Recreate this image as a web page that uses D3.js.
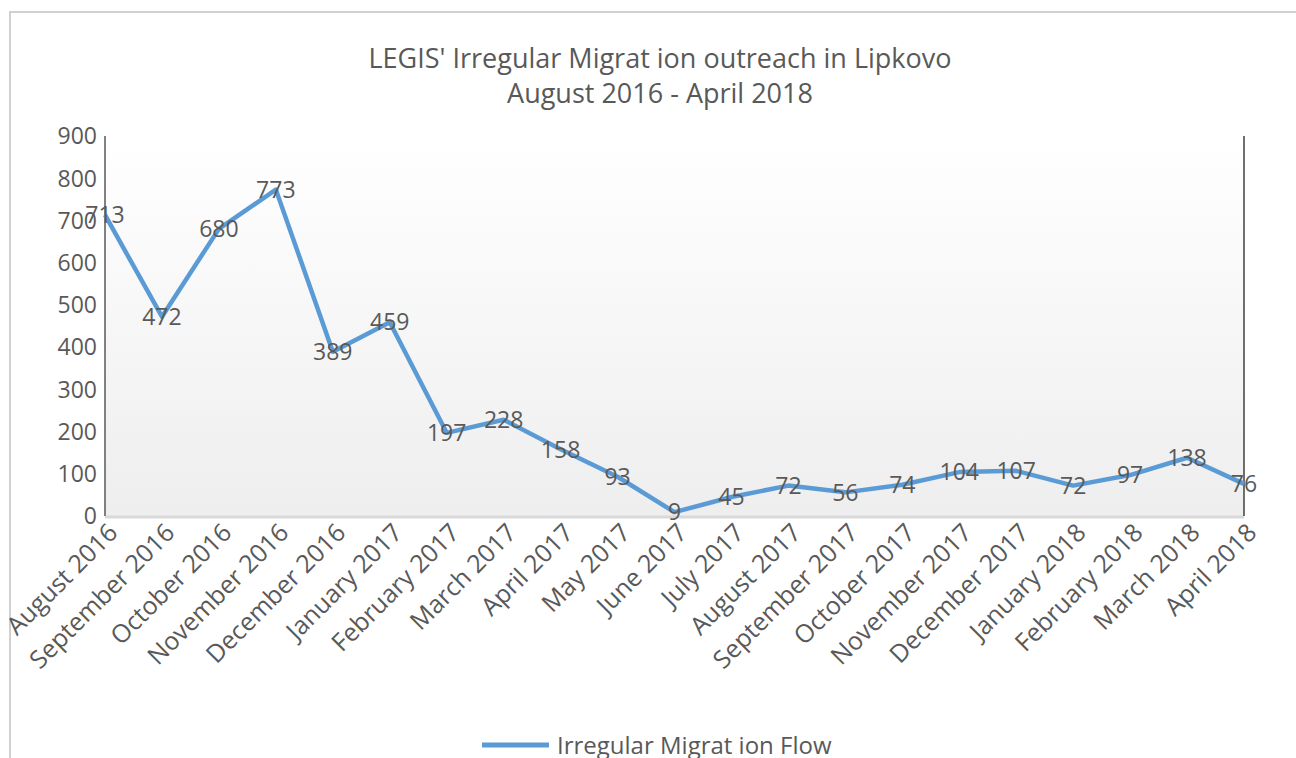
<!DOCTYPE html>
<html>
<head>
<meta charset="utf-8">
<script src="https://cdn.jsdelivr.net/npm/d3@7/dist/d3.min.js"></script>
<style>
  body { margin: 0; background: #fff; }
  svg text { font-family: "Open Sans", "DejaVu Sans", sans-serif; fill: #595959; }
</style>
</head>
<body>
<svg id="chart" width="1296" height="758"></svg>
<script>
var months = ["August 2016", "September 2016", "October 2016", "November 2016", "December 2016",
  "January 2017", "February 2017", "March 2017", "April 2017", "May 2017", "June 2017",
  "July 2017", "August 2017", "September 2017", "October 2017", "November 2017",
  "December 2017", "January 2018", "February 2018", "March 2018", "April 2018"];
var flow = [713, 472, 680, 773, 389, 459, 197, 228, 158, 93, 9, 45, 72, 56, 74, 104, 107, 72, 97, 138, 76];
var yTicks = [0, 100, 200, 300, 400, 500, 600, 700, 800, 900];
var titleLines = ["LEGIS' Irregular Migrat ion outreach in Lipkovo", "August 2016 - April 2018"];
var seriesName = "Irregular Migrat ion Flow";

var lineColor = "#5b9bd5";
var plotLeft = 105, plotRight = 1244, plotTop = 136, plotBottom = 516;

var svg = d3.select("#chart");

// outer frame (partial, like the cropped screenshot)
svg.append("path")
  .attr("d", "M10,758 V12 H1296")
  .attr("fill", "none")
  .attr("stroke", "#d0d0d0")
  .attr("stroke-width", 2);

var defs = svg.append("defs");
var grad = defs.append("linearGradient")
  .attr("id", "plotBg").attr("x1", 0).attr("y1", 0).attr("x2", 0).attr("y2", 1);
grad.append("stop").attr("offset", "0%").attr("stop-color", "#ffffff");
grad.append("stop").attr("offset", "100%").attr("stop-color", "#eeeeee");

var x = d3.scalePoint().domain(months).range([plotLeft, plotRight]);
var y = d3.scaleLinear().domain([0, 900]).range([plotBottom, plotTop]);

svg.append("rect")
  .attr("x", plotLeft).attr("y", plotTop)
  .attr("width", plotRight - plotLeft).attr("height", plotBottom - plotTop)
  .attr("fill", "url(#plotBg)");

// title
svg.append("g").selectAll("text")
  .data(titleLines)
  .join("text")
  .attr("x", 660)
  .attr("y", function (d, i) { return 68 + i * 35; })
  .attr("text-anchor", "middle")
  .style("font-size", "27px")
  .text(function (d) { return d; });

// y axis labels
svg.append("g").selectAll("text")
  .data(yTicks)
  .join("text")
  .attr("x", 97)
  .attr("y", function (d) { return y(d); })
  .attr("dy", "0.36em")
  .attr("text-anchor", "end")
  .style("font-size", "23px")
  .text(function (d) { return d; });

// axes lines
svg.append("line")
  .attr("x1", plotLeft).attr("x2", plotRight).attr("y1", plotBottom + 1).attr("y2", plotBottom + 1)
  .attr("stroke", "#d9d9d9").attr("stroke-width", 3);
svg.append("line")
  .attr("x1", plotLeft).attr("x2", plotLeft).attr("y1", plotTop).attr("y2", plotBottom)
  .attr("stroke", "#595959").attr("stroke-width", 1.5);
svg.append("line")
  .attr("x1", plotRight).attr("x2", plotRight).attr("y1", plotTop).attr("y2", plotBottom)
  .attr("stroke", "#404040").attr("stroke-width", 1.5);

// x labels
svg.append("g").selectAll("text")
  .data(months)
  .join("text")
  .attr("transform", function (d) { return "translate(" + (x(d) + 8) + "," + (plotBottom + 12) + ") rotate(-45)"; })
  .attr("text-anchor", "end")
  .attr("dy", "0.35em")
  .style("font-size", "25px")
  .text(function (d) { return d; });

// line
var line = d3.line()
  .x(function (d, i) { return x(months[i]); })
  .y(function (d) { return y(d); });

svg.append("path")
  .datum(flow)
  .attr("d", line)
  .attr("fill", "none")
  .attr("stroke", lineColor)
  .attr("stroke-width", 4.5)
  .attr("stroke-linejoin", "round");

// data labels
svg.append("g").selectAll("text")
  .data(flow)
  .join("text")
  .attr("x", function (d, i) { return x(months[i]); })
  .attr("y", function (d) { return y(d); })
  .attr("dy", "0.36em")
  .attr("text-anchor", "middle")
  .style("font-size", "23px")
  .text(function (d) { return d; });

// legend
svg.append("line")
  .attr("x1", 482).attr("x2", 549).attr("y1", 745).attr("y2", 745)
  .attr("stroke", lineColor).attr("stroke-width", 5);
svg.append("text")
  .attr("x", 557).attr("y", 745)
  .attr("dy", "0.36em")
  .style("font-size", "24px")
  .text(seriesName);
</script>
</body>
</html>
